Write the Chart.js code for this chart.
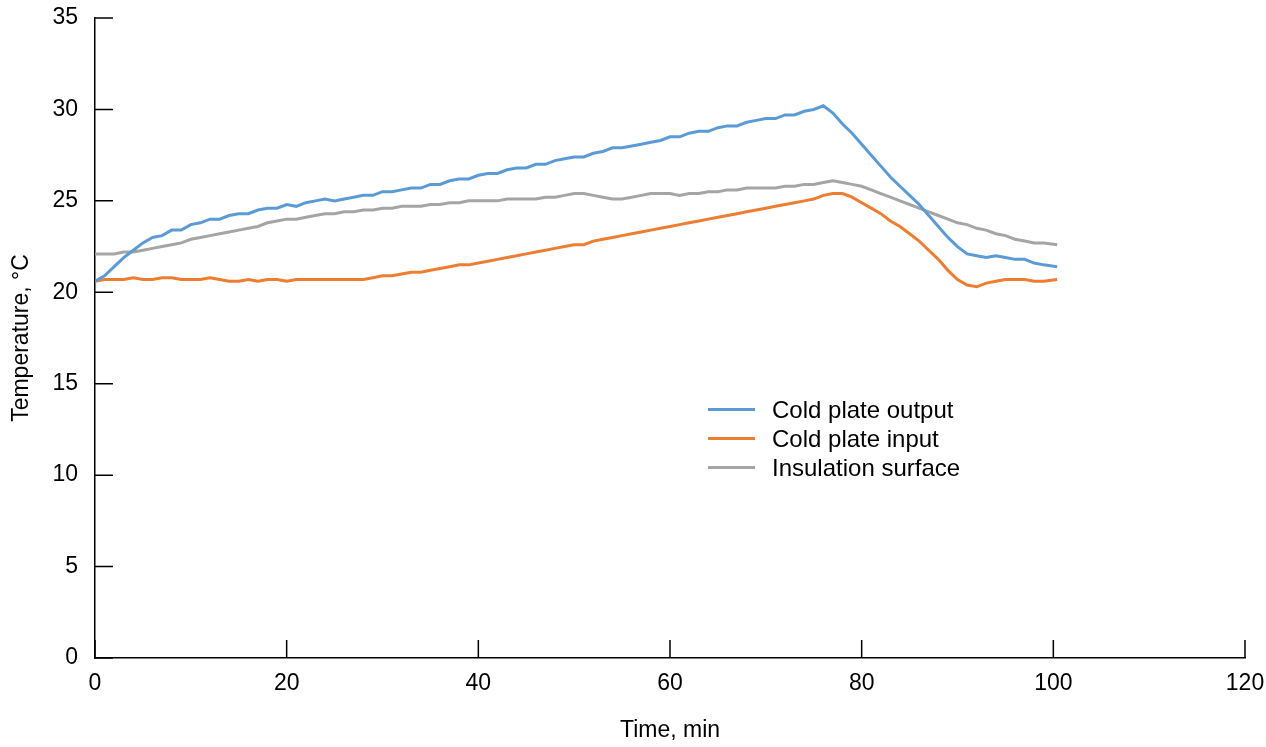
<!DOCTYPE html>
<html>
<head>
<meta charset="utf-8">
<script src="https://cdn.jsdelivr.net/npm/chart.js@4.4.1/dist/chart.umd.min.js"></script>
<style>
  html, body { margin: 0; padding: 0; background: #fff; }
  #wrap { position: relative; width: 1266px; height: 747px; }
  #legend { position: absolute; left: 708px; top: 395px; font-family: "Liberation Sans", Arial, sans-serif; font-size: 24px; color: #000; }
  #legend .row { display: flex; align-items: center; height: 29px; }
  #legend .sw { width: 47px; height: 3px; margin-right: 17px; }
</style>
</head>
<body>
<div id="wrap">
  <canvas id="c" width="1266" height="747"></canvas>
  <div id="legend"></div>
</div>
<script>
const times = [0,1,2,3,4,5,6,7,8,9,10,11,12,13,14,15,16,17,18,19,20,21,22,23,24,25,26,27,28,29,30,31,32,33,34,35,36,37,38,39,40,41,42,43,44,45,46,47,48,49,50,51,52,53,54,55,56,57,58,59,60,61,62,63,64,65,66,67,68,69,70,71,72,73,74,75,76,77,78,79,80,81,82,83,84,85,86,87,88,89,90,91,92,93,94,95,96,97,98,99,100.4];

const coldPlateOutput = [
  20.6, 20.9, 21.4, 21.9, 22.3, 22.7, 23.0, 23.1, 23.4, 23.4,
  23.7, 23.8, 24.0, 24.0, 24.2, 24.3, 24.3, 24.5, 24.6, 24.6,
  24.8, 24.7, 24.9, 25.0, 25.1, 25.0, 25.1, 25.2, 25.3, 25.3,
  25.5, 25.5, 25.6, 25.7, 25.7, 25.9, 25.9, 26.1, 26.2, 26.2,
  26.4, 26.5, 26.5, 26.7, 26.8, 26.8, 27.0, 27.0, 27.2, 27.3,
  27.4, 27.4, 27.6, 27.7, 27.9, 27.9, 28.0, 28.1, 28.2, 28.3,
  28.5, 28.5, 28.7, 28.8, 28.8, 29.0, 29.1, 29.1, 29.3, 29.4,
  29.5, 29.5, 29.7, 29.7, 29.9, 30.0, 30.2, 29.8, 29.2, 28.7,
  28.1, 27.5, 26.9, 26.3, 25.8, 25.3, 24.8, 24.2, 23.6, 23.0,
  22.5, 22.1, 22.0, 21.9, 22.0, 21.9, 21.8, 21.8, 21.6, 21.5, 21.4
];

const coldPlateInput = [
  20.6, 20.7, 20.7, 20.7, 20.8, 20.7, 20.7, 20.8, 20.8, 20.7,
  20.7, 20.7, 20.8, 20.7, 20.6, 20.6, 20.7, 20.6, 20.7, 20.7,
  20.6, 20.7, 20.7, 20.7, 20.7, 20.7, 20.7, 20.7, 20.7, 20.8,
  20.9, 20.9, 21.0, 21.1, 21.1, 21.2, 21.3, 21.4, 21.5, 21.5,
  21.6, 21.7, 21.8, 21.9, 22.0, 22.1, 22.2, 22.3, 22.4, 22.5,
  22.6, 22.6, 22.8, 22.9, 23.0, 23.1, 23.2, 23.3, 23.4, 23.5,
  23.6, 23.7, 23.8, 23.9, 24.0, 24.1, 24.2, 24.3, 24.4, 24.5,
  24.6, 24.7, 24.8, 24.9, 25.0, 25.1, 25.3, 25.4, 25.4, 25.2,
  24.9, 24.6, 24.3, 23.9, 23.6, 23.2, 22.8, 22.3, 21.8, 21.2,
  20.7, 20.4, 20.3, 20.5, 20.6, 20.7, 20.7, 20.7, 20.6, 20.6, 20.7
];

const insulationSurface = [
  22.1, 22.1, 22.1, 22.2, 22.2, 22.3, 22.4, 22.5, 22.6, 22.7,
  22.9, 23.0, 23.1, 23.2, 23.3, 23.4, 23.5, 23.6, 23.8, 23.9,
  24.0, 24.0, 24.1, 24.2, 24.3, 24.3, 24.4, 24.4, 24.5, 24.5,
  24.6, 24.6, 24.7, 24.7, 24.7, 24.8, 24.8, 24.9, 24.9, 25.0,
  25.0, 25.0, 25.0, 25.1, 25.1, 25.1, 25.1, 25.2, 25.2, 25.3,
  25.4, 25.4, 25.3, 25.2, 25.1, 25.1, 25.2, 25.3, 25.4, 25.4,
  25.4, 25.3, 25.4, 25.4, 25.5, 25.5, 25.6, 25.6, 25.7, 25.7,
  25.7, 25.7, 25.8, 25.8, 25.9, 25.9, 26.0, 26.1, 26.0, 25.9,
  25.8, 25.6, 25.4, 25.2, 25.0, 24.8, 24.6, 24.4, 24.2, 24.0,
  23.8, 23.7, 23.5, 23.4, 23.2, 23.1, 22.9, 22.8, 22.7, 22.7, 22.6
];

const seriesLabels = ["Cold plate output", "Cold plate input", "Insulation surface"];
const seriesColors = ["#5B9BD5", "#ED7D31", "#A5A5A5"];
const xTicks = [0, 20, 40, 60, 80, 100, 120];
const yTicks = [0, 5, 10, 15, 20, 25, 30, 35];

const FONT = '"Liberation Sans", Arial, sans-serif';
const toPoints = arr => arr.map((v, i) => ({ x: times[i], y: v }));
const seriesData = [coldPlateOutput, coldPlateInput, insulationSurface];

const innerTicks = {
  id: 'innerTicks',
  afterDraw(chart) {
    const { ctx, chartArea, scales } = chart;
    ctx.save();
    ctx.strokeStyle = '#000';
    ctx.lineWidth = 1.5;
    ctx.beginPath();
    xTicks.forEach(v => {
      const px = scales.x.getPixelForValue(v);
      ctx.moveTo(px, chartArea.bottom);
      ctx.lineTo(px, chartArea.bottom - 18);
    });
    yTicks.forEach(v => {
      const py = scales.y.getPixelForValue(v);
      ctx.moveTo(chartArea.left, py);
      ctx.lineTo(chartArea.left + 18, py);
    });
    ctx.stroke();
    ctx.restore();
  }
};

new Chart(document.getElementById('c'), {
  type: 'line',
  data: {
    datasets: seriesData.map((d, i) => ({
      label: seriesLabels[i],
      data: toPoints(d),
      borderColor: seriesColors[i],
      backgroundColor: seriesColors[i],
      borderWidth: 3,
      pointRadius: 0,
      tension: 0,
      fill: false
    }))
  },
  options: {
    responsive: false,
    animation: false,
    events: [],
    layout: { padding: { top: 18, right: 21, left: 0, bottom: 0 } },
    plugins: { legend: { display: false }, tooltip: { enabled: false } },
    scales: {
      x: {
        type: 'linear', min: 0, max: 120,
        afterBuildTicks: s => { s.ticks = xTicks.map(v => ({ value: v })); },
        afterFit: s => { s.height = 89; s.paddingLeft = 0; s.paddingRight = 0; },
        grid: { display: false, drawTicks: false },
        border: { display: true, color: '#000', width: 1.5 },
        ticks: { color: '#000', font: { family: FONT, size: 23 }, padding: 12, maxRotation: 0 },
        title: { display: true, text: 'Time, min', color: '#000', font: { family: FONT, size: 23 }, padding: { top: 0, bottom: 3 } }
      },
      y: {
        type: 'linear', min: 0, max: 35,
        afterBuildTicks: s => { s.ticks = yTicks.map(v => ({ value: v })); },
        afterFit: s => { s.width = 95; s.paddingTop = 0; s.paddingBottom = 0; },
        grid: { display: false, drawTicks: false },
        border: { display: true, color: '#000', width: 1.5 },
        ticks: { color: '#000', font: { family: FONT, size: 23 }, padding: 17 },
        title: { display: true, text: 'Temperature, °C', color: '#000', font: { family: FONT, size: 23 }, padding: { top: 8, bottom: 0 } }
      }
    }
  },
  plugins: [innerTicks]
});

const legend = document.getElementById('legend');
seriesLabels.forEach((lab, i) => {
  const row = document.createElement('div');
  row.className = 'row';
  const sw = document.createElement('div');
  sw.className = 'sw';
  sw.style.background = seriesColors[i];
  const tx = document.createElement('span');
  tx.textContent = lab;
  row.appendChild(sw);
  row.appendChild(tx);
  legend.appendChild(row);
});
</script>
</body>
</html>
